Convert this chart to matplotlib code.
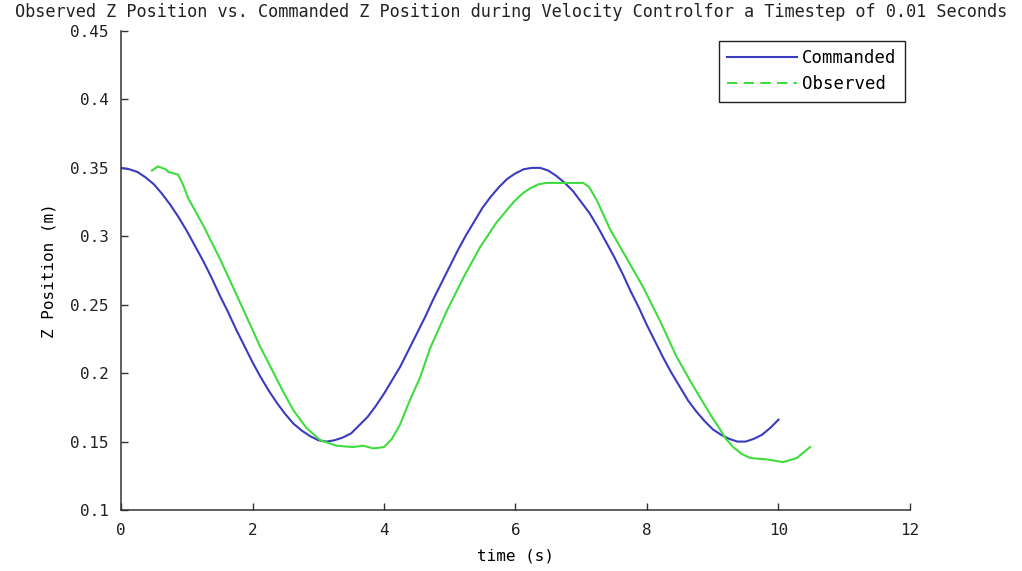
import matplotlib
matplotlib.use("Agg")
import matplotlib.pyplot as plt
from matplotlib.lines import Line2D

# --- commanded trajectory (s, m) ---
t_cmd = [0.0, 0.125, 0.25, 0.375, 0.5, 0.625, 0.75, 0.875, 1.0, 1.125,
         1.25, 1.375, 1.5, 1.625, 1.75, 1.875, 2.0, 2.125, 2.25, 2.375,
         2.5, 2.625, 2.75, 2.875, 3.0, 3.125, 3.25, 3.375, 3.5, 3.625,
         3.75, 3.875, 4.0, 4.125, 4.25, 4.375, 4.5, 4.625, 4.75, 4.875,
         5.0, 5.125, 5.25, 5.375, 5.5, 5.625, 5.75, 5.875, 6.0, 6.125,
         6.25, 6.375, 6.5, 6.625, 6.75, 6.875, 7.0, 7.125, 7.25, 7.375,
         7.5, 7.625, 7.75, 7.875, 8.0, 8.125, 8.25, 8.375, 8.5, 8.625,
         8.75, 8.875, 9.0, 9.125, 9.25, 9.375, 9.5, 9.625, 9.75, 9.875,
         10.0]
z_cmd = [0.350, 0.349, 0.347, 0.343, 0.338, 0.331, 0.323, 0.314, 0.304,
         0.293, 0.282, 0.270, 0.257, 0.245, 0.232, 0.220, 0.208, 0.197,
         0.187, 0.178, 0.170, 0.163, 0.158, 0.154, 0.151, 0.150, 0.151,
         0.153, 0.156, 0.162, 0.168, 0.176, 0.185, 0.195, 0.205, 0.217,
         0.229, 0.241, 0.254, 0.266, 0.278, 0.290, 0.301, 0.311, 0.321,
         0.329, 0.336, 0.342, 0.346, 0.349, 0.350, 0.350, 0.348, 0.344,
         0.339, 0.333, 0.325, 0.317, 0.307, 0.296, 0.285, 0.273, 0.260,
         0.248, 0.235, 0.223, 0.211, 0.200, 0.190, 0.180, 0.172, 0.165,
         0.159, 0.155, 0.152, 0.150, 0.150, 0.152, 0.155, 0.160, 0.166]

# --- observed trajectory (s, m) ---
t_obs = [0.47, 0.53, 0.56, 0.62, 0.68, 0.72, 0.80, 0.87, 0.91, 0.95, 1.02,
         1.25, 1.51, 1.76, 2.11, 2.27, 2.45, 2.62, 2.82, 3.03, 3.28, 3.53,
         3.68, 3.84, 4.00, 4.12, 4.24, 4.40, 4.55, 4.70, 4.95, 5.21, 5.46,
         5.71, 5.97, 6.10, 6.22, 6.35, 6.47, 6.78, 7.03, 7.12, 7.24, 7.44,
         7.69, 7.94, 8.20, 8.45, 8.65, 8.81, 9.00, 9.11, 9.20, 9.31, 9.44,
         9.57, 9.82, 10.07, 10.28, 10.48]
z_obs = [0.348, 0.350, 0.351, 0.350, 0.349, 0.347, 0.346, 0.345, 0.341,
         0.337, 0.328, 0.308, 0.283, 0.257, 0.220, 0.205, 0.188, 0.173,
         0.160, 0.151, 0.147, 0.146, 0.147, 0.145, 0.146, 0.152, 0.162,
         0.181, 0.197, 0.218, 0.245, 0.270, 0.292, 0.310, 0.325, 0.331,
         0.335, 0.338, 0.339, 0.339, 0.339, 0.336, 0.326, 0.305, 0.284,
         0.263, 0.238, 0.212, 0.195, 0.182, 0.167, 0.159, 0.152, 0.146,
         0.141, 0.138, 0.137, 0.135, 0.138, 0.146]

x_ticks = [0, 2, 4, 6, 8, 10, 12]
y_ticks = [0.1, 0.15, 0.2, 0.25, 0.3, 0.35, 0.4, 0.45]
y_tick_labels = ["0.1", "0.15", "0.2", "0.25", "0.3", "0.35", "0.4", "0.45"]

blue = "#3b3bbf"
green = "#3fdc3f"

plt.rcParams["font.family"] = ["DejaVu Sans Mono"]
plt.rcParams["font.size"] = 11.5

fig = plt.figure(figsize=(10.22, 5.71), dpi=100)
ax = fig.add_axes([0.1184, 0.1068, 0.772, 0.8389])

ax.plot(t_cmd, z_cmd, color=blue, lw=1.5)
ax.plot(t_obs, z_obs, color=green, lw=1.5)

ax.set_xlim(0, 12)
ax.set_ylim(0.1, 0.45)
ax.set_xticks(x_ticks)
ax.set_yticks(y_ticks)
ax.set_yticklabels(y_tick_labels)
ax.tick_params(direction="in", length=5, width=1, colors="#333333",
               labelcolor="#222222")
ax.tick_params(axis="x", pad=9)
ax.tick_params(axis="y", pad=9)
ax.spines["top"].set_visible(False)
ax.spines["right"].set_visible(False)
for s in ("left", "bottom"):
    ax.spines[s].set_color("#333333")
    ax.spines[s].set_linewidth(1.1)

ax.set_xlabel("time (s)", labelpad=8)
ax.set_ylabel("Z Position (m)", labelpad=10)
fig.text(0.5, 0.979, "Observed Z Position vs. Commanded Z Position during "
         "Velocity Controlfor a Timestep of 0.01 Seconds",
         ha="center", va="center", fontsize=12.2, color="#222222")

handles = [Line2D([], [], color=blue, lw=1.5),
           Line2D([], [], color=green, lw=1.5, ls=(0, (5, 3)))]
leg = ax.legend(handles, ["Commanded", "Observed"], loc="upper right",
                bbox_to_anchor=(1.005, 0.998), handlelength=4.0,
                handletextpad=0.3, borderpad=0.5, labelspacing=0.45,
                fancybox=False, framealpha=1, edgecolor="#222222",
                fontsize=12.5)
leg.get_frame().set_linewidth(1.0)

fig.savefig("out.png", dpi=100)
